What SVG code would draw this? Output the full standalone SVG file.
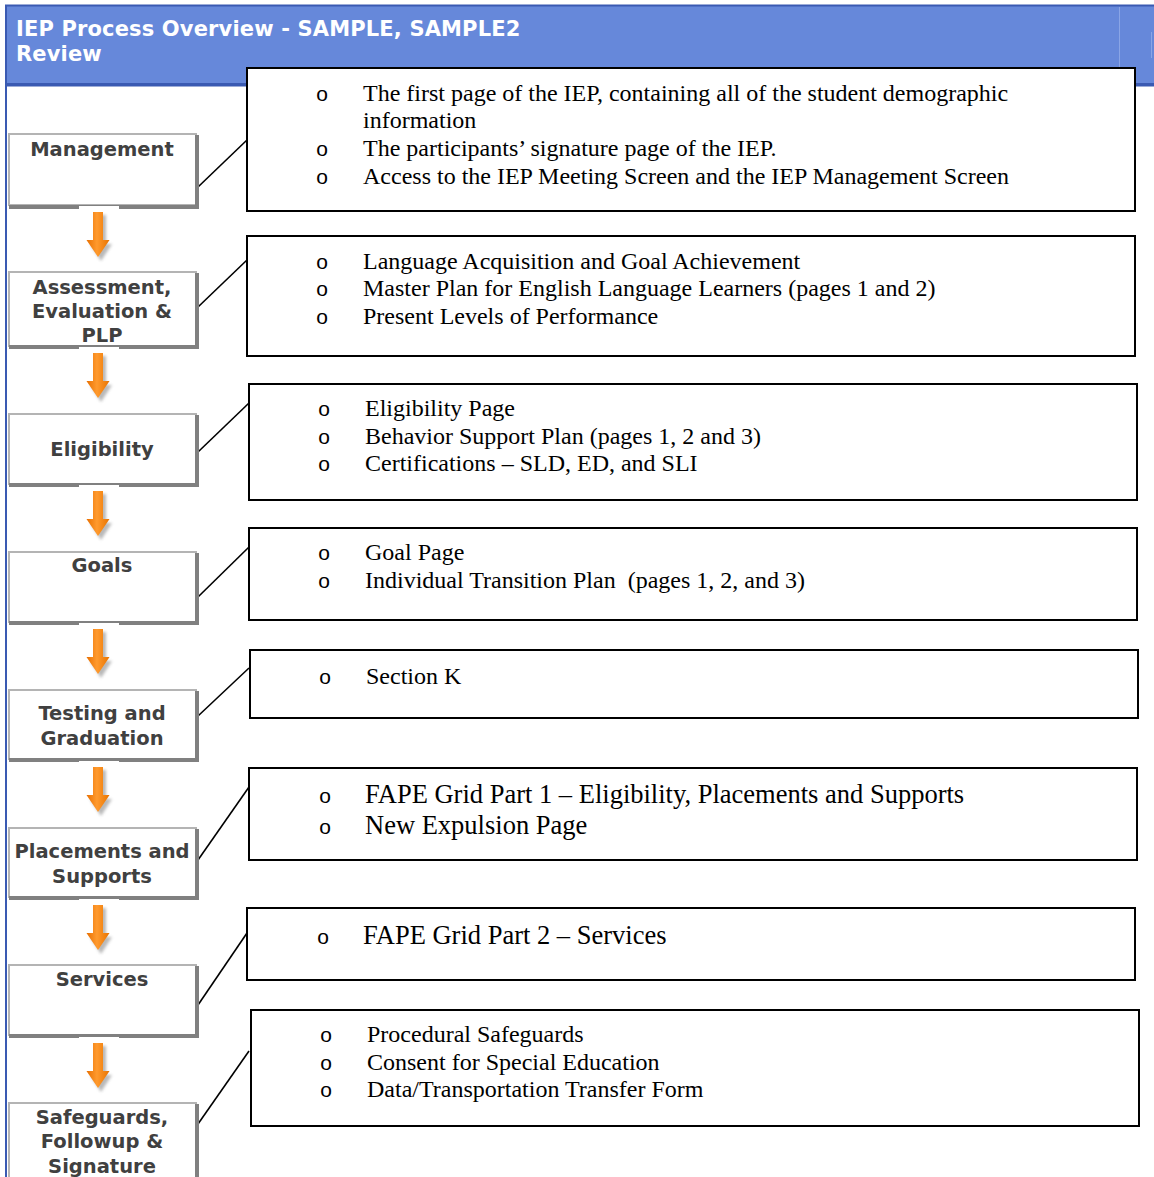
<svg xmlns="http://www.w3.org/2000/svg" width="1154" height="1177" viewBox="0 0 1154 1177">
<style>
.hdr{font-family:"DejaVu Sans",Verdana,sans-serif;font-weight:bold;font-size:21px;fill:#ffffff;letter-spacing:0.15px}
.lbl{font-family:"DejaVu Sans",Verdana,sans-serif;font-weight:bold;font-size:19.5px;fill:#404040;text-anchor:middle}
.box{fill:#ffffff;stroke:#000000;stroke-width:2}
.tx{font-family:"Liberation Serif","Times New Roman",serif;font-size:24px;fill:#000000}
.tl{font-family:"Liberation Serif","Times New Roman",serif;font-size:26.5px;fill:#000000}
.bul{font-family:"Liberation Sans",Arial,sans-serif;font-size:21px;fill:#000000;text-anchor:middle}
.lb{fill:#ffffff;stroke:#b4b4b4;stroke-width:2}
.sh{fill:#808080}
.conn line{stroke:#000000;stroke-width:1.6}
</style>
<defs>
<linearGradient id="og" x1="0" y1="0" x2="1" y2="0">
<stop offset="0" stop-color="#e86f00"/>
<stop offset="0.45" stop-color="#ff9a2e"/>
<stop offset="1" stop-color="#e87400"/>
</linearGradient>
<filter id="blur" x="-50%" y="-50%" width="200%" height="200%">
<feGaussianBlur stdDeviation="1.8"/>
</filter>
<g id="arrow">
<rect x="-19" y="-6" width="40" height="4" fill="#ffffff"/>
<path d="M-2,3 h10 v29 h6 l-11,17 l-11,-17 h6 z" fill="#8a8a8a" opacity="0.6" filter="url(#blur)"/>
<path d="M-5,0 h10 v28 h6.5 l-11.5,17 l-11.5,-17 h6.5 z" fill="url(#og)"/>
</g>
</defs>

<g id="header">
<rect x="5" y="5" width="1149" height="80" fill="#6688da"/>
<rect x="5" y="4.5" width="1149" height="2" fill="#3a5ab2"/>
<rect x="5" y="83" width="1149" height="3.5" fill="#3a5ab2"/>
<line x1="1119.5" y1="7" x2="1119.5" y2="83" stroke="#8aa5e6" stroke-width="1"/>
<line x1="1151.5" y1="32" x2="1151.5" y2="58" stroke="#8aa5e6" stroke-width="1"/>
<text class="hdr" x="16" y="36">IEP Process Overview - SAMPLE, SAMPLE2</text>
<text class="hdr" x="16" y="61">Review</text>
</g>
<rect id="leftrule" x="5" y="5" width="2" height="1172" fill="#3a5ab2"/>

<g id="conn" class="conn">
<line x1="198" y1="187" x2="247" y2="140"/>
<line x1="198" y1="307" x2="247" y2="260"/>
<line x1="198" y1="452" x2="249" y2="403"/>
<line x1="198" y1="597" x2="249" y2="547"/>
<line x1="198" y1="716" x2="249" y2="668"/>
<line x1="198" y1="860" x2="249" y2="787"/>
<line x1="198" y1="1005" x2="247" y2="933"/>
<line x1="198" y1="1124" x2="249" y2="1051"/>
</g>

<g id="n-management">
<rect class="lb" x="9" y="134" width="187" height="71"/>
<rect class="sh" x="195" y="135" width="4" height="74"/>
<rect class="sh" x="9" y="205" width="190" height="4"/>
<text class="lbl" x="102" y="156">Management</text>
</g>
<g id="n-assessment">
<rect class="lb" x="9" y="272" width="187" height="74"/>
<rect class="sh" x="195" y="273" width="4" height="76"/>
<rect class="sh" x="9" y="345" width="190" height="4"/>
<text class="lbl" x="102" y="294">Assessment,</text>
<text class="lbl" x="102" y="318">Evaluation &amp;</text>
<text class="lbl" x="102" y="342">PLP</text>
</g>
<g id="n-eligibility">
<rect class="lb" x="9" y="414" width="187" height="70"/>
<rect class="sh" x="195" y="415" width="4" height="72"/>
<rect class="sh" x="9" y="483" width="190" height="4"/>
<text class="lbl" x="102" y="456">Eligibility</text>
</g>
<g id="n-goals">
<rect class="lb" x="9" y="552" width="187" height="70"/>
<rect class="sh" x="195" y="553" width="4" height="72"/>
<rect class="sh" x="9" y="621" width="190" height="4"/>
<text class="lbl" x="102" y="572">Goals</text>
</g>
<g id="n-testing">
<rect class="lb" x="9" y="690" width="187" height="69"/>
<rect class="sh" x="195" y="691" width="4" height="71"/>
<rect class="sh" x="9" y="758" width="190" height="4"/>
<text class="lbl" x="102" y="720">Testing and</text>
<text class="lbl" x="102" y="745">Graduation</text>
</g>
<g id="n-placements">
<rect class="lb" x="9" y="828" width="187" height="69"/>
<rect class="sh" x="195" y="829" width="4" height="71"/>
<rect class="sh" x="9" y="896" width="190" height="4"/>
<text class="lbl" x="102" y="858">Placements and</text>
<text class="lbl" x="102" y="883">Supports</text>
</g>
<g id="n-services">
<rect class="lb" x="9" y="965" width="187" height="70"/>
<rect class="sh" x="195" y="966" width="4" height="72"/>
<rect class="sh" x="9" y="1034" width="190" height="4"/>
<text class="lbl" x="102" y="986">Services</text>
</g>
<g id="n-safeguards">
<rect class="lb" x="9" y="1103" width="187" height="80"/>
<rect class="sh" x="195" y="1104" width="4" height="80"/>
<text class="lbl" x="102" y="1124">Safeguards,</text>
<text class="lbl" x="102" y="1148">Followup &amp;</text>
<text class="lbl" x="102" y="1173">Signature</text>
</g>

<g id="arrows">
<use href="#arrow" x="98" y="212"/>
<use href="#arrow" x="98" y="353"/>
<use href="#arrow" x="98" y="491"/>
<use href="#arrow" x="98" y="629"/>
<use href="#arrow" x="98" y="767"/>
<use href="#arrow" x="98" y="905"/>
<use href="#arrow" x="98" y="1043"/>
</g>

<g id="d-management">
<rect class="box" x="247" y="68" width="888" height="143"/>
<text class="bul" x="322" y="101">o</text>
<text class="tx" x="363" y="101">The first page of the IEP, containing all of the student demographic</text>
<text class="tx" x="363" y="128">information</text>
<text class="bul" x="322" y="156">o</text>
<text class="tx" x="363" y="156">The participants’ signature page of the IEP.</text>
<text class="bul" x="322" y="184">o</text>
<text class="tx" x="363" y="184">Access to the IEP Meeting Screen and the IEP Management Screen</text>
</g>
<g id="d-assessment">
<rect class="box" x="247" y="236" width="888" height="120"/>
<text class="bul" x="322" y="269">o</text>
<text class="tx" x="363" y="269">Language Acquisition and Goal Achievement</text>
<text class="bul" x="322" y="296">o</text>
<text class="tx" x="363" y="296">Master Plan for English Language Learners (pages 1 and 2)</text>
<text class="bul" x="322" y="324">o</text>
<text class="tx" x="363" y="324">Present Levels of Performance</text>
</g>
<g id="d-eligibility">
<rect class="box" x="249" y="384" width="888" height="116"/>
<text class="bul" x="324" y="416">o</text>
<text class="tx" x="365" y="416">Eligibility Page</text>
<text class="bul" x="324" y="444">o</text>
<text class="tx" x="365" y="444">Behavior Support Plan (pages 1, 2 and 3)</text>
<text class="bul" x="324" y="471">o</text>
<text class="tx" x="365" y="471">Certifications – SLD, ED, and SLI</text>
</g>
<g id="d-goals">
<rect class="box" x="249" y="528" width="888" height="92"/>
<text class="bul" x="324" y="560">o</text>
<text class="tx" x="365" y="560">Goal Page</text>
<text class="bul" x="324" y="588">o</text>
<text class="tx" x="365" y="588" xml:space="preserve">Individual Transition Plan  (pages 1, 2, and 3)</text>
</g>
<g id="d-testing">
<rect class="box" x="250" y="650" width="888" height="68"/>
<text class="bul" x="325" y="684">o</text>
<text class="tx" x="366" y="684">Section K</text>
</g>
<g id="d-placements">
<rect class="box" x="249" y="768" width="888" height="92"/>
<text class="bul" x="325" y="803">o</text>
<text class="tl" x="365" y="803">FAPE Grid Part 1 – Eligibility, Placements and Supports</text>
<text class="bul" x="325" y="834">o</text>
<text class="tl" x="365" y="834">New Expulsion Page</text>
</g>
<g id="d-services">
<rect class="box" x="247" y="908" width="888" height="72"/>
<text class="bul" x="323" y="944">o</text>
<text class="tl" x="363" y="944">FAPE Grid Part 2 – Services</text>
</g>
<g id="d-safeguards">
<rect class="box" x="251" y="1010" width="888" height="116"/>
<text class="bul" x="326" y="1042">o</text>
<text class="tx" x="367" y="1042">Procedural Safeguards</text>
<text class="bul" x="326" y="1070">o</text>
<text class="tx" x="367" y="1070">Consent for Special Education</text>
<text class="bul" x="326" y="1097">o</text>
<text class="tx" x="367" y="1097">Data/Transportation Transfer Form</text>
</g>
</svg>
